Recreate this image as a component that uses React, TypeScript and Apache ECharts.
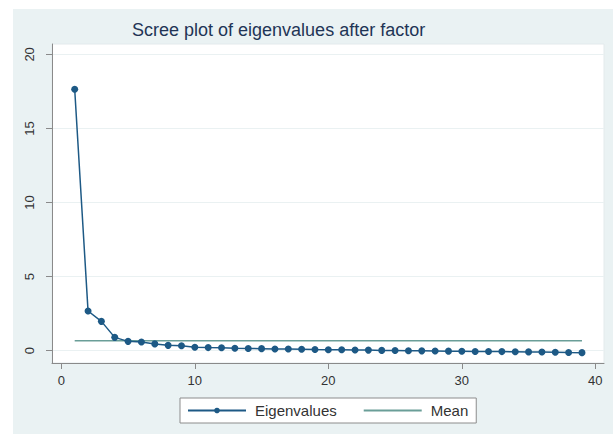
import React, { useEffect, useRef } from "react";
import * as echarts from "echarts";

const titleText = "Scree plot of eigenvalues after factor";
const factorNumbers = [
  1, 2, 3, 4, 5, 6, 7, 8, 9, 10, 11, 12, 13, 14, 15, 16, 17, 18, 19, 20,
  21, 22, 23, 24, 25, 26, 27, 28, 29, 30, 31, 32, 33, 34, 35, 36, 37, 38, 39,
];
const eigenvalues = [
  17.65, 2.68, 1.98, 0.9, 0.63, 0.59, 0.46, 0.36, 0.33, 0.23, 0.21, 0.2, 0.16,
  0.15, 0.14, 0.12, 0.11, 0.1, 0.08, 0.07, 0.06, 0.05, 0.04, 0.02, 0.01, 0.0,
  -0.01, -0.02, -0.03, -0.04, -0.05, -0.05, -0.06, -0.07, -0.08, -0.09, -0.1,
  -0.12, -0.13,
];
const meanValue = 0.68;
const meanRange = [1, 39];
const xTicks = [0, 10, 20, 30, 40];
const yTicks = [0, 5, 10, 15, 20];
const seriesNames = ["Eigenvalues", "Mean"];

export default function App() {
  const ref = useRef<HTMLDivElement>(null);
  useEffect(() => {
    document.body.style.margin = "0";
    if (!ref.current) return;
    const chart = echarts.init(ref.current, null, { renderer: "svg" });
    const font = "Liberation Sans, Arial, sans-serif";
    chart.setOption({
      animation: false,
      backgroundColor: "transparent",
      textStyle: { fontFamily: font },
      title: {
        text: titleText,
        left: 132,
        top: 21,
        padding: 0,
        textStyle: {
          fontSize: 18,
          fontWeight: "normal",
          color: "#1f3556",
          fontFamily: font,
        },
      },
      legend: {
        left: 180,
        top: 398,
        orient: "horizontal",
        backgroundColor: "#ffffff",
        borderColor: "#8c8c8c",
        borderWidth: 1,
        borderRadius: 0,
        padding: [5, 8, 5, 7],
        itemWidth: 58,
        itemHeight: 7,
        itemGap: 26,
        textStyle: {
          fontSize: 15,
          color: "#333333",
          fontFamily: font,
          padding: [0, 0, 0, 4],
        },
        data: [
          { name: seriesNames[0] },
          { name: seriesNames[1], itemStyle: { opacity: 0 } },
        ],
      },
      grid: {
        left: 52,
        top: 44,
        right: 9,
        bottom: 71,
        show: true,
        backgroundColor: "#ffffff",
        borderColor: "#e3eaec",
        borderWidth: 1,
        containLabel: false,
      },
      xAxis: {
        type: "value",
        min: -0.7,
        max: 40.65,
        axisLine: { show: true, onZero: false, lineStyle: { color: "#8a8a8a", width: 1 } },
        axisTick: {
          show: true,
          length: 6,
          customValues: xTicks,
          lineStyle: { color: "#8a8a8a" },
        },
        axisLabel: {
          customValues: xTicks,
          margin: 11,
          fontSize: 13,
          color: "#333333",
          fontFamily: font,
        },
        splitLine: { show: false },
      },
      yAxis: {
        type: "value",
        min: -0.83,
        max: 20.7,
        axisLine: { show: true, onZero: false, lineStyle: { color: "#8a8a8a", width: 1 } },
        axisTick: {
          show: true,
          length: 6,
          customValues: yTicks,
          lineStyle: { color: "#8a8a8a" },
        },
        axisLabel: {
          customValues: yTicks,
          rotate: 90,
          margin: 16,
          fontSize: 13,
          color: "#333333",
          fontFamily: font,
        },
        splitLine: { show: true, lineStyle: { color: "#eaf1f2", width: 1 } },
      },
      series: [
        {
          name: seriesNames[0],
          type: "line",
          data: factorNumbers.map((x, i) => [x, eigenvalues[i]]),
          symbol: "circle",
          symbolSize: 7,
          showSymbol: true,
          lineStyle: { color: "#1d5985", width: 1.5 },
          itemStyle: { color: "#1d5985" },
          z: 3,
        },
        {
          name: seriesNames[1],
          type: "line",
          data: meanRange.map((x) => [x, meanValue]),
          symbol: "none",
          lineStyle: { color: "#6a9e98", width: 1.5 },
          itemStyle: { color: "#6a9e98" },
          z: 2,
        },
      ],
    });
    return () => chart.dispose();
  }, []);
  return (
    <div style={{ position: "relative", width: 613, height: 434, background: "#ffffff" }}>
      <div
        style={{
          position: "absolute",
          left: 13,
          top: 9,
          width: 600,
          height: 425,
          background: "#eaf2f3",
        }}
      />
      <div ref={ref} style={{ position: "absolute", left: 0, top: 0, width: 613, height: 434 }} />
    </div>
  );
}
